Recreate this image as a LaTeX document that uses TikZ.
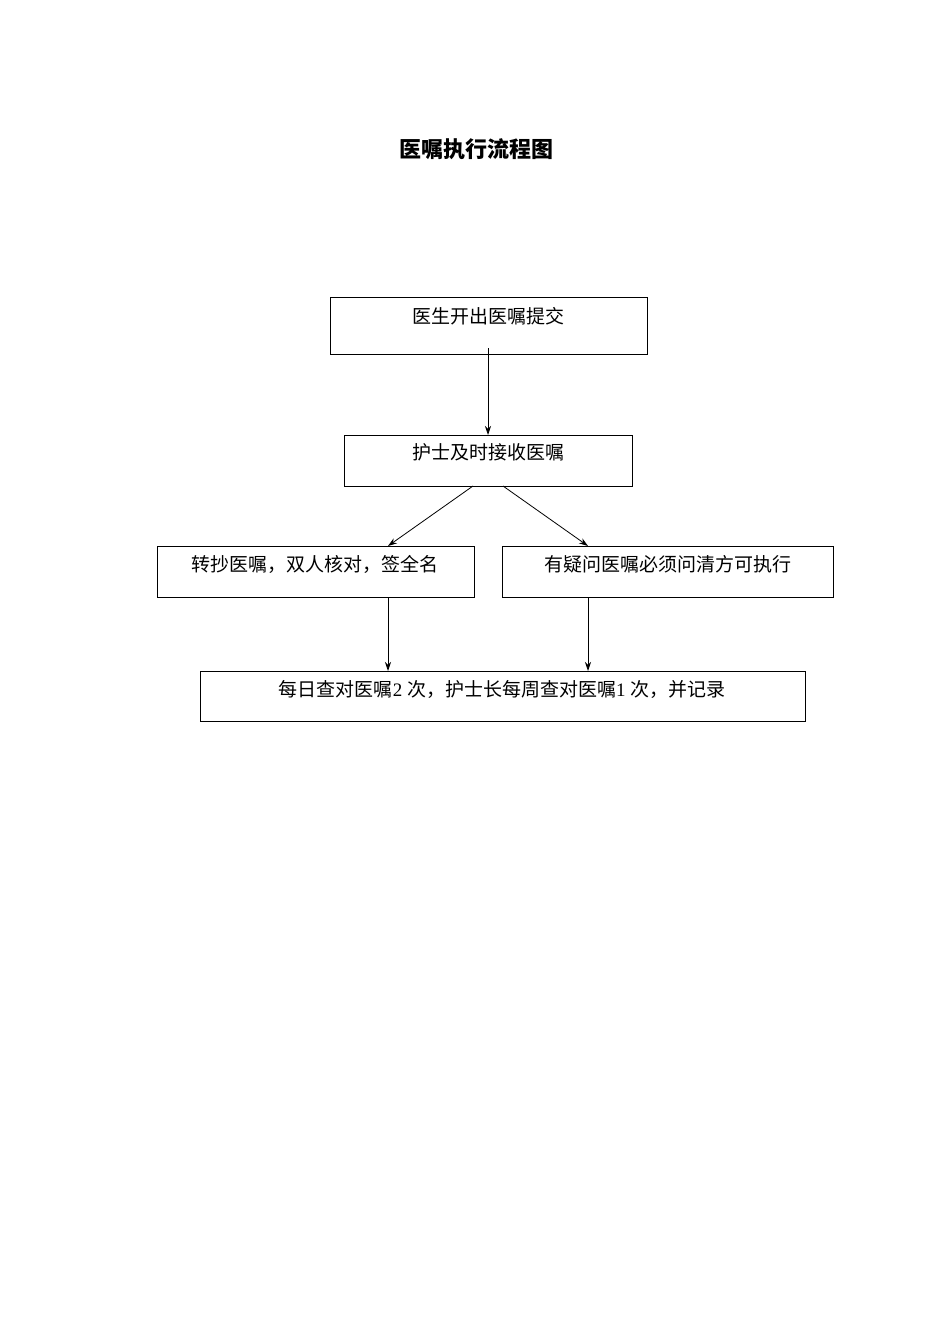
\documentclass[tikz,border=0pt]{standalone}
\usepackage{fontspec}
\setmainfont{Liberation Serif}
\newfontfamily\cjk{Noto Sans CJK SC}
\usetikzlibrary{arrows.meta}
\begin{document}
\begin{tikzpicture}[x=1pt,y=-1pt,
  box/.style={draw,line width=0.8pt},
  lbl/.style={font=\cjk\fontsize{19}{22}\selectfont,inner sep=0pt},
  arr/.style={draw,line width=0.8pt,-{Stealth[length=9pt,width=6pt]}}]
\useasboundingbox (0,0) rectangle (950,1344);
\node[font=\cjk\bfseries\fontsize{22}{26}\selectfont] (title) at (476,149) {医嘱执行流程图};
\draw[box] (330,297) rectangle (647,354);
\node[lbl] (t1) at (488,316) {医生开出医嘱提交};
\draw[box] (344,435) rectangle (632,486);
\node[lbl] (t2) at (488,452) {护士及时接收医嘱};
\draw[box] (157,546) rectangle (474,597);
\node[lbl] (t3) at (315,564) {转抄医嘱，双人核对，签全名};
\draw[box] (502,546) rectangle (833,597);
\node[lbl] (t4) at (668,564) {有疑问医嘱必须问清方可执行};
\draw[box] (200,671) rectangle (805,721);
\node[lbl] (t5) at (502,689) {每日查对医嘱{\rmfamily 2 }次，护士长每周查对医嘱{\rmfamily 1 }次，并记录};
\coordinate (a1) at (488,348); \coordinate (b1) at (488,435);
\coordinate (a2) at (473,486); \coordinate (b2) at (388,546);
\coordinate (a3) at (503,486); \coordinate (b3) at (588,546);
\coordinate (a4) at (388,597); \coordinate (b4) at (388,671);
\coordinate (a5) at (588,597); \coordinate (b5) at (588,671);
\draw[arr] (a1) -- (b1);
\draw[arr] (a2) -- (b2);
\draw[arr] (a3) -- (b3);
\draw[arr] (a4) -- (b4);
\draw[arr] (a5) -- (b5);
\end{tikzpicture}
\end{document}
